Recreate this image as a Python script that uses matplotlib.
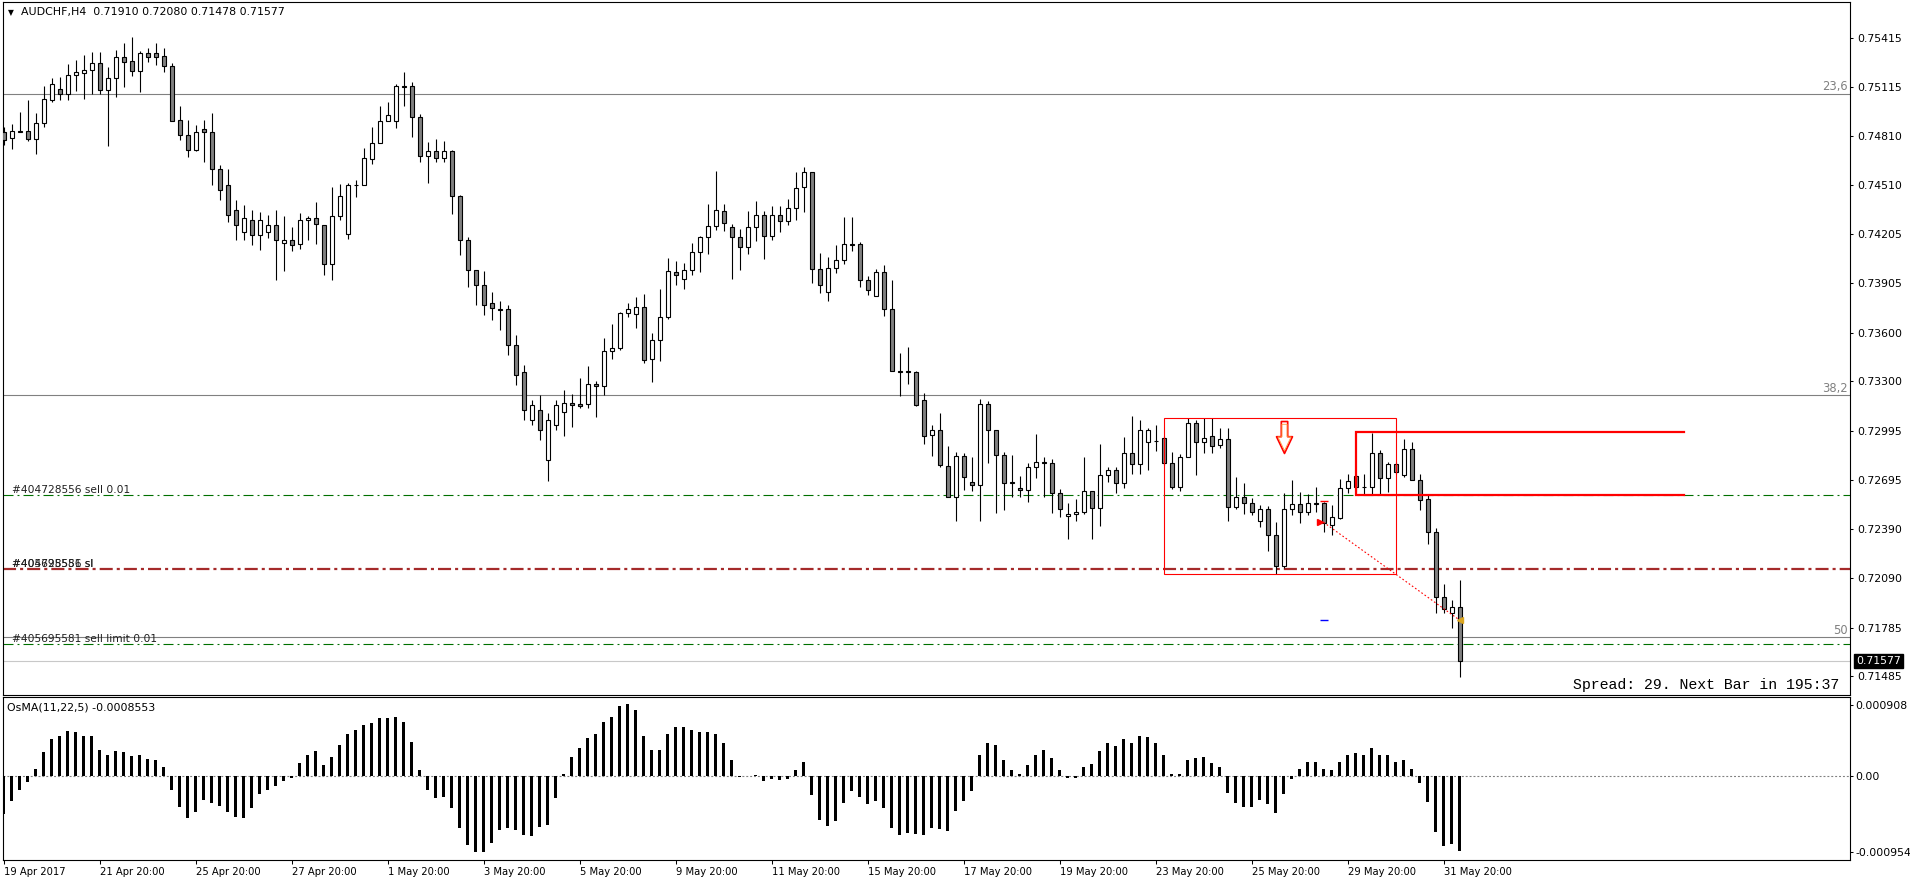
import numpy as np
import matplotlib
matplotlib.use('Agg')
import matplotlib.pyplot as plt
from matplotlib.patches import Rectangle
from matplotlib.path import Path
from matplotlib.transforms import blended_transform_factory

W, H = 1910, 884
plt.rcParams['font.family'] = 'DejaVu Sans'
plt.rcParams['lines.scale_dashes'] = False

symbol = 'AUDCHF,H4'

# H4 candles, 19 Apr 20:00 .. 1 Jun 04:00
open_ = [0.74837, 0.74797, 0.74842, 0.74842, 0.74790, 0.74889, 0.75034, 0.75098, 0.75068, 0.75184,
         0.75201, 0.75215, 0.75258, 0.75096, 0.75166, 0.75295, 0.75271, 0.75209, 0.75320, 0.75320,
         0.75301, 0.75240, 0.74907, 0.74815, 0.74723, 0.74852, 0.74834, 0.74608, 0.74509, 0.74355,
         0.74220, 0.74294, 0.74201, 0.74220, 0.74263, 0.74150, 0.74169, 0.74144, 0.74292, 0.74304,
         0.74261, 0.74021, 0.74317, 0.74206, 0.74509, 0.74510, 0.74671, 0.74766, 0.74901, 0.74901,
         0.75117, 0.75117, 0.74926, 0.74686, 0.74717, 0.74677, 0.74717, 0.74440, 0.74169, 0.73984,
         0.73892, 0.73781, 0.73744, 0.73746, 0.73524, 0.73358, 0.73063, 0.73124, 0.72816, 0.73032,
         0.73114, 0.73166, 0.73159, 0.73159, 0.73282, 0.73270, 0.73485, 0.73504, 0.73719, 0.73713,
         0.73756, 0.73436, 0.73553, 0.73695, 0.73972, 0.73929, 0.73984, 0.74095, 0.74187, 0.74255,
         0.74347, 0.74249, 0.74187, 0.74126, 0.74249, 0.74323, 0.74193, 0.74323, 0.74286, 0.74366,
         0.74495, 0.74587, 0.73993, 0.73849, 0.73996, 0.74045, 0.74144, 0.74144, 0.73923, 0.73824,
         0.73972, 0.73744, 0.73362, 0.73362, 0.73356, 0.73184, 0.72968, 0.72999, 0.72777, 0.72589,
         0.72839, 0.72679, 0.72661, 0.73159, 0.72999, 0.72845, 0.72679, 0.72642, 0.72630, 0.72771,
         0.72802, 0.72796, 0.72611, 0.72470, 0.72482, 0.72494, 0.72624, 0.72519, 0.72722, 0.72753,
         0.72673, 0.72857, 0.72790, 0.72929, 0.72935, 0.72950, 0.72796, 0.72648, 0.72837, 0.73042,
         0.72925, 0.72964, 0.72909, 0.72944, 0.72525, 0.72590, 0.72553, 0.72443, 0.72513, 0.72353,
         0.72164, 0.72513, 0.72544, 0.72494, 0.72550, 0.72550, 0.72414, 0.72461, 0.72642, 0.72716,
         0.72652, 0.72652, 0.72857, 0.72704, 0.72790, 0.72722, 0.72882, 0.72691, 0.72574, 0.72371,
         0.71975, 0.71873, 0.71910]
high = [0.74864, 0.74883, 0.74958, 0.75032, 0.74952, 0.75119, 0.75166, 0.75172, 0.75254, 0.75277,
        0.75309, 0.75328, 0.75328, 0.75234, 0.75340, 0.75383, 0.75422, 0.75332, 0.75351, 0.75381,
        0.75351, 0.75258, 0.74994, 0.74909, 0.74877, 0.74907, 0.74952, 0.74632, 0.74608, 0.74417,
        0.74386, 0.74355, 0.74343, 0.74325, 0.74355, 0.74320, 0.74251, 0.74335, 0.74320, 0.74403,
        0.74261, 0.74497, 0.74513, 0.74520, 0.74539, 0.74737, 0.74866, 0.74995, 0.75020, 0.75131,
        0.75203, 0.75141, 0.74944, 0.74774, 0.74790, 0.74780, 0.74725, 0.74449, 0.74187, 0.73984,
        0.73981, 0.73849, 0.73798, 0.73770, 0.73586, 0.73401, 0.73186, 0.73216, 0.73105, 0.73186,
        0.73247, 0.73221, 0.73319, 0.73393, 0.73303, 0.73565, 0.73653, 0.73726, 0.73781, 0.73820,
        0.73838, 0.73596, 0.73867, 0.74058, 0.74039, 0.74027, 0.74150, 0.74193, 0.74390, 0.74593,
        0.74390, 0.74267, 0.74236, 0.74347, 0.74411, 0.74347, 0.74378, 0.74378, 0.74421, 0.74587,
        0.74618, 0.74587, 0.74089, 0.74064, 0.74138, 0.74310, 0.74310, 0.74156, 0.73947, 0.73990,
        0.74015, 0.73923, 0.73473, 0.73510, 0.73362, 0.73227, 0.73030, 0.73104, 0.72902, 0.72864,
        0.72857, 0.72833, 0.73190, 0.73178, 0.72999, 0.72864, 0.72845, 0.72716, 0.72796, 0.72975,
        0.72833, 0.72821, 0.72636, 0.72550, 0.72574, 0.72833, 0.72624, 0.72913, 0.72771, 0.72775,
        0.72960, 0.73087, 0.73062, 0.73011, 0.73032, 0.72964, 0.72864, 0.72853, 0.73073, 0.73062,
        0.73073, 0.73073, 0.73011, 0.73011, 0.72713, 0.72677, 0.72581, 0.72539, 0.72533, 0.72436,
        0.72611, 0.72693, 0.72621, 0.72607, 0.72648, 0.72560, 0.72539, 0.72697, 0.72727, 0.72727,
        0.72731, 0.72984, 0.72878, 0.72806, 0.72806, 0.72945, 0.72925, 0.72727, 0.72605, 0.72399,
        0.72053, 0.71954, 0.72080]
low = [0.74755, 0.74729, 0.74834, 0.74782, 0.74702, 0.74868, 0.75022, 0.75032, 0.75032, 0.75088,
       0.75040, 0.75071, 0.75071, 0.74749, 0.75053, 0.75114, 0.75182, 0.75083, 0.75265, 0.75246,
       0.75203, 0.74903, 0.74784, 0.74683, 0.74717, 0.74649, 0.74509, 0.74417, 0.74281, 0.74171,
       0.74171, 0.74140, 0.74109, 0.74183, 0.73925, 0.73982, 0.74105, 0.74117, 0.74169, 0.74148,
       0.73957, 0.73926, 0.74296, 0.74179, 0.74437, 0.74507, 0.74640, 0.74766, 0.74901, 0.74862,
       0.74998, 0.74806, 0.74653, 0.74523, 0.74653, 0.74653, 0.74333, 0.74080, 0.73883, 0.73769,
       0.73709, 0.73678, 0.73617, 0.73463, 0.73278, 0.73063, 0.73032, 0.72939, 0.72687, 0.73001,
       0.72966, 0.73021, 0.73138, 0.73138, 0.73083, 0.73216, 0.73440, 0.73495, 0.73698, 0.73631,
       0.73412, 0.73298, 0.73424, 0.73682, 0.73892, 0.73867, 0.73953, 0.73975, 0.74086, 0.74230,
       0.74224, 0.73929, 0.73984, 0.74083, 0.74163, 0.74052, 0.74169, 0.74218, 0.74261, 0.74292,
       0.74341, 0.73904, 0.73846, 0.73793, 0.73966, 0.74024, 0.74103, 0.73883, 0.73834, 0.73824,
       0.73701, 0.73362, 0.73213, 0.73282, 0.73147, 0.72917, 0.72843, 0.72771, 0.72589, 0.72443,
       0.72630, 0.72624, 0.72439, 0.72796, 0.72488, 0.72507, 0.72589, 0.72587, 0.72556, 0.72704,
       0.72589, 0.72488, 0.72464, 0.72328, 0.72439, 0.72482, 0.72328, 0.72408, 0.72679, 0.72615,
       0.72642, 0.72727, 0.72727, 0.72755, 0.72873, 0.72786, 0.72636, 0.72627, 0.72833, 0.72724,
       0.72861, 0.72857, 0.72888, 0.72443, 0.72513, 0.72484, 0.72478, 0.72406, 0.72258, 0.72115,
       0.72150, 0.72478, 0.72430, 0.72478, 0.72498, 0.72373, 0.72355, 0.72453, 0.72611, 0.72621,
       0.72601, 0.72601, 0.72607, 0.72621, 0.72727, 0.72710, 0.72691, 0.72508, 0.72299, 0.71876,
       0.71876, 0.71784, 0.71478]
close = [0.74786, 0.74842, 0.74837, 0.74790, 0.74889, 0.75037, 0.75129, 0.75068, 0.75184, 0.75203,
         0.75215, 0.75258, 0.75096, 0.75166, 0.75295, 0.75268, 0.75213, 0.75320, 0.75295, 0.75299,
         0.75240, 0.74903, 0.74815, 0.74723, 0.74834, 0.74834, 0.74606, 0.74478, 0.74325, 0.74263,
         0.74306, 0.74201, 0.74294, 0.74263, 0.74171, 0.74169, 0.74138, 0.74292, 0.74304, 0.74267,
         0.74021, 0.74317, 0.74440, 0.74507, 0.74507, 0.74677, 0.74766, 0.74901, 0.74938, 0.75117,
         0.75115, 0.74926, 0.74686, 0.74717, 0.74677, 0.74717, 0.74440, 0.74169, 0.73984, 0.73892,
         0.73769, 0.73750, 0.73742, 0.73524, 0.73340, 0.73124, 0.73155, 0.73001, 0.73063, 0.73155,
         0.73166, 0.73153, 0.73151, 0.73282, 0.73274, 0.73485, 0.73504, 0.73719, 0.73744, 0.73756,
         0.73430, 0.73553, 0.73695, 0.73978, 0.73953, 0.73984, 0.74095, 0.74187, 0.74255, 0.74353,
         0.74273, 0.74187, 0.74126, 0.74249, 0.74323, 0.74193, 0.74323, 0.74286, 0.74366, 0.74489,
         0.74587, 0.73993, 0.73892, 0.73996, 0.74045, 0.74144, 0.74142, 0.73923, 0.73861, 0.73972,
         0.73744, 0.73362, 0.73360, 0.73356, 0.73153, 0.72962, 0.72999, 0.72784, 0.72589, 0.72839,
         0.72710, 0.72661, 0.73159, 0.72999, 0.72845, 0.72673, 0.72677, 0.72630, 0.72771, 0.72802,
         0.72796, 0.72611, 0.72513, 0.72482, 0.72494, 0.72624, 0.72519, 0.72722, 0.72753, 0.72673,
         0.72857, 0.72790, 0.73001, 0.73001, 0.72933, 0.72796, 0.72648, 0.72837, 0.73042, 0.72925,
         0.72950, 0.72904, 0.72944, 0.72525, 0.72590, 0.72550, 0.72498, 0.72513, 0.72353, 0.72166,
         0.72513, 0.72544, 0.72498, 0.72550, 0.72548, 0.72427, 0.72467, 0.72642, 0.72685, 0.72648,
         0.72650, 0.72857, 0.72704, 0.72790, 0.72741, 0.72882, 0.72691, 0.72570, 0.72371, 0.71975,
         0.71901, 0.71913, 0.71577]

# OsMA(11,22,5) histogram
osma = [-0.000434, -0.000282, -0.000149, -0.000065, 0.000091, 0.000278, 0.000430, 0.000468, 0.000514, 0.000506,
        0.000468, 0.000457, 0.000308, 0.000240, 0.000286, 0.000278, 0.000232, 0.000240, 0.000202, 0.000183,
        0.000114, -0.000156, -0.000350, -0.000476, -0.000407, -0.000270, -0.000305, -0.000339, -0.000407, -0.000465,
        -0.000476, -0.000362, -0.000202, -0.000156, -0.000110, -0.000053, -0.000019, 0.000149, 0.000251, 0.000286,
        0.000129, 0.000217, 0.000354, 0.000484, 0.000526, 0.000583, 0.000613, 0.000663, 0.000663, 0.000685,
        0.000628, 0.000396, 0.000069, -0.000149, -0.000248, -0.000236, -0.000362, -0.000590, -0.000784, -0.000864,
        -0.000864, -0.000762, -0.000613, -0.000590, -0.000613, -0.000670, -0.000682, -0.000579, -0.000556, -0.000248,
        0.000034, 0.000217, 0.000331, 0.000434, 0.000484, 0.000617, 0.000685, 0.000803, 0.000823, 0.000765,
        0.000468, 0.000308, 0.000308, 0.000480, 0.000560, 0.000560, 0.000529, 0.000510, 0.000510, 0.000491,
        0.000385, 0.000194, -0.000008, 0.000008, 0.000019, -0.000053, -0.000023, -0.000038, -0.000023, 0.000069,
        0.000164, -0.000206, -0.000499, -0.000571, -0.000514, -0.000305, -0.000168, -0.000236, -0.000316, -0.000282,
        -0.000362, -0.000590, -0.000670, -0.000647, -0.000659, -0.000670, -0.000590, -0.000602, -0.000625, -0.000396,
        -0.000282, -0.000168, 0.000251, 0.000377, 0.000354, 0.000194, 0.000069, 0.000023, 0.000126, 0.000251,
        0.000308, 0.000206, 0.000069, -0.000015, -0.000015, 0.000114, 0.000137, 0.000286, 0.000377, 0.000343,
        0.000423, 0.000388, 0.000468, 0.000446, 0.000388, 0.000240, 0.000023, 0.000034, 0.000183, 0.000206,
        0.000217, 0.000149, 0.000103, -0.000194, -0.000305, -0.000350, -0.000350, -0.000270, -0.000316, -0.000419,
        -0.000202, -0.000023, 0.000091, 0.000171, 0.000171, 0.000080, 0.000069, 0.000160, 0.000251, 0.000274,
        0.000251, 0.000331, 0.000251, 0.000240, 0.000171, 0.000194, 0.000091, -0.000076, -0.000293, -0.000636,
        -0.000796, -0.000773, -0.0008553]

price_ticks = [0.75415, 0.75115, 0.74810, 0.74510, 0.74205, 0.73905, 0.73600,
               0.73300, 0.72995, 0.72695, 0.72390, 0.72090, 0.71785, 0.71485]
date_ticks = [0, 12, 24, 36, 48, 60, 72, 84, 96, 108, 120, 132, 144, 156, 168, 180]
date_labels = ['19 Apr 2017', '21 Apr 20:00', '25 Apr 20:00', '27 Apr 20:00', '1 May 20:00',
               '3 May 20:00', '5 May 20:00', '9 May 20:00', '11 May 20:00', '15 May 20:00',
               '17 May 20:00', '19 May 20:00', '23 May 20:00', '25 May 20:00', '29 May 20:00',
               '31 May 20:00']

fibo_levels = [0.75069, 0.73215, 0.71725]
fibo_names = ['23,6', '38,2', '50']

order_sell = 0.72601
order_sl = 0.72145
order_limit = 0.71684

box_bars = (145, 174)
box_prices = (0.72113, 0.73073)
chan_bars = (169, 210)
chan_prices = (0.72601, 0.72989)
arrow_bar, arrow_price = 160, 0.72958
trade_bars = (165, 182)
trade_prices = (0.72433, 0.71831)
trade_sl = 0.72564

open_ = np.array(open_)
high = np.array(high)
low = np.array(low)
close = np.array(close)
x = np.arange(len(close))


def fbox(l, t, r, b):
    return [l / W, 1 - b / H, (r - l) / W, (b - t) / H]


fig = plt.figure(figsize=(W / 100, H / 100), dpi=100)
ax = fig.add_axes(fbox(3, 2, 1850, 695))
ax2 = fig.add_axes(fbox(3, 697, 1850, 860))

xlim = (-0.0625, 230.81)

# candles
up = close >= open_
ax.vlines(x, low, high, color='black', lw=0.8, zorder=2)
ax.bar(x, np.maximum(np.abs(close - open_), 0.000005), bottom=np.minimum(open_, close),
       width=0.5, color=np.where(up, 'white', '#808080'), edgecolor='black', linewidth=0.8, zorder=3)

ax.set_xlim(*xlim)
ax.set_ylim(0.713696, 0.756357)
ax.set_xticks([])
ax.yaxis.tick_right()
ax.set_yticks(price_ticks)
ax.set_yticklabels(['%.5f' % p for p in price_ticks])
ax.tick_params(axis='y', length=2.2, width=0.75, pad=2.9, labelsize=7.8, colors='black')

trans = blended_transform_factory(ax.transAxes, ax.transData)

# fibo levels
for lvl, name in zip(fibo_levels, fibo_names):
    ax.axhline(lvl, color='#808080', lw=0.8, zorder=1)
    ax.annotate(name, xy=(1.0, lvl), xycoords=trans, xytext=(-1.5, 0.5), textcoords='offset points',
                ha='right', va='bottom', color='#808080', fontsize=8.3)

# current price
ax.axhline(close[-1], color='#c8c8c8', lw=0.8, zorder=1)

# orders
green_ls = (0, (7.2, 2.9, 1.4, 2.9))
red_ls = (0, (9.4, 2.9, 2.2, 2.9))
ax.axhline(order_sell, color='#007000', lw=0.8, ls=green_ls, zorder=1)
ax.axhline(order_limit, color='#007000', lw=0.8, ls=green_ls, zorder=1)
ax.axhline(order_sl, color='#a52a2a', lw=1.6, ls=red_ls, zorder=1)
ax.text(0.0047, order_sell, '#404728556 sell 0.01', transform=trans, va='bottom', fontsize=7.7, color='#202020')
ax.text(0.0047, order_sl, '#404728556 sl', transform=trans, va='bottom', fontsize=7.7, color='#202020')
ax.text(0.0047, order_sl, '#405695581 sl', transform=trans, va='bottom', fontsize=7.7, color='#202020')
ax.text(0.0047, order_limit, '#405695581 sell limit 0.01', transform=trans, va='bottom', fontsize=7.7,
        color='#202020')

# drawn objects
ax.add_patch(Rectangle((box_bars[0], box_prices[0]), box_bars[1] - box_bars[0],
                       box_prices[1] - box_prices[0], fill=False, edgecolor='red', lw=0.8, zorder=4))
ax.plot([chan_bars[1], chan_bars[0], chan_bars[0], chan_bars[1]],
        [chan_prices[1], chan_prices[1], chan_prices[0], chan_prices[0]],
        color='red', lw=1.6, solid_joinstyle='miter', zorder=4)

# hollow down arrow (MT4 arrow object)
arrow_marker = Path([(-0.2, 1.0), (0.2, 1.0), (0.2, 0.05), (0.5, 0.05), (0.0, -1.0),
                     (-0.5, 0.05), (-0.2, 0.05), (-0.2, 1.0)], closed=True)
ax.plot(arrow_bar, arrow_price, marker=arrow_marker, ms=23, mfc='white', mec='red', mew=1.2, zorder=5)
ax.plot(arrow_bar, arrow_price, marker=arrow_marker, ms=19, mfc='none', mec='#ff9a3c', mew=0.6, zorder=5)

ax.plot(trade_bars, trade_prices, color='red', lw=0.8, ls=(0, (1.2, 1.6)), zorder=4)
ax.plot(trade_bars[0] - 0.4, trade_prices[0], marker='>', color='red', ms=4, zorder=5)
ax.plot(trade_bars[1], trade_prices[1], marker='<', color='#daa520', ms=5, zorder=5)
ax.plot(trade_bars[0], trade_sl, marker='_', color='red', ms=6, mew=1, zorder=5)
ax.plot(trade_bars[0], trade_prices[1], marker='_', color='blue', ms=6, mew=1, zorder=5)

# current price box
ax.annotate('%.5f' % close[-1], xy=(1.0, close[-1]), xycoords=trans, xytext=(4.3, 0),
            textcoords='offset points', ha='left', va='center', color='white', fontsize=7.8,
            bbox=dict(boxstyle='square,pad=0.2', fc='black', ec='black'), annotation_clip=False)

for sp in ax.spines.values():
    sp.set_linewidth(0.8)

# OsMA panel
ax2.bar(x, osma, width=0.34, color='black', zorder=3)
ax2.axhline(0, color='#808080', lw=0.8, ls=(0, (1.4, 1.4)), zorder=1)
ax2.set_xlim(*xlim)
ax2.set_ylim(-0.000954, 0.000908)
per_px = (0.000908 + 0.000954) / 163
ax2.yaxis.tick_right()
ax2.set_yticks([0.000908 - 8 * per_px, 0, -0.000954 + 8 * per_px])
ax2.set_yticklabels(['0.000908', '0.00', '-0.000954'])
ax2.tick_params(axis='y', length=2.2, width=0.75, pad=1.5, labelsize=7.8)
ax2.set_xticks(date_ticks)
ax2.set_xticklabels(date_labels)
ax2.tick_params(axis='x', length=3, width=0.75, pad=1.8, labelsize=7.2)
for lab in ax2.get_xticklabels():
    lab.set_ha('left')
for sp in ax2.spines.values():
    sp.set_linewidth(0.8)

# header texts
fig.text(8 / W, 1 - 12.5 / H, '\u25bc', fontsize=5.5, va='center')
fig.text(21 / W, 1 - 12.5 / H, '%s  %.5f %.5f %.5f %.5f' % (symbol, open_[-1], high[-1], low[-1], close[-1]),
         fontsize=7.9, va='center')
fig.text(7 / W, 1 - 708 / H, 'OsMA(11,22,5) %.7f' % osma[-1], fontsize=7.9, va='center')
fig.text(1839 / W, 1 - 684.5 / H, 'Spread: 29. Next Bar in 195:37', family='Liberation Mono',
         fontsize=10.7, ha='right', va='center')

fig.savefig('out.png', dpi=100)
